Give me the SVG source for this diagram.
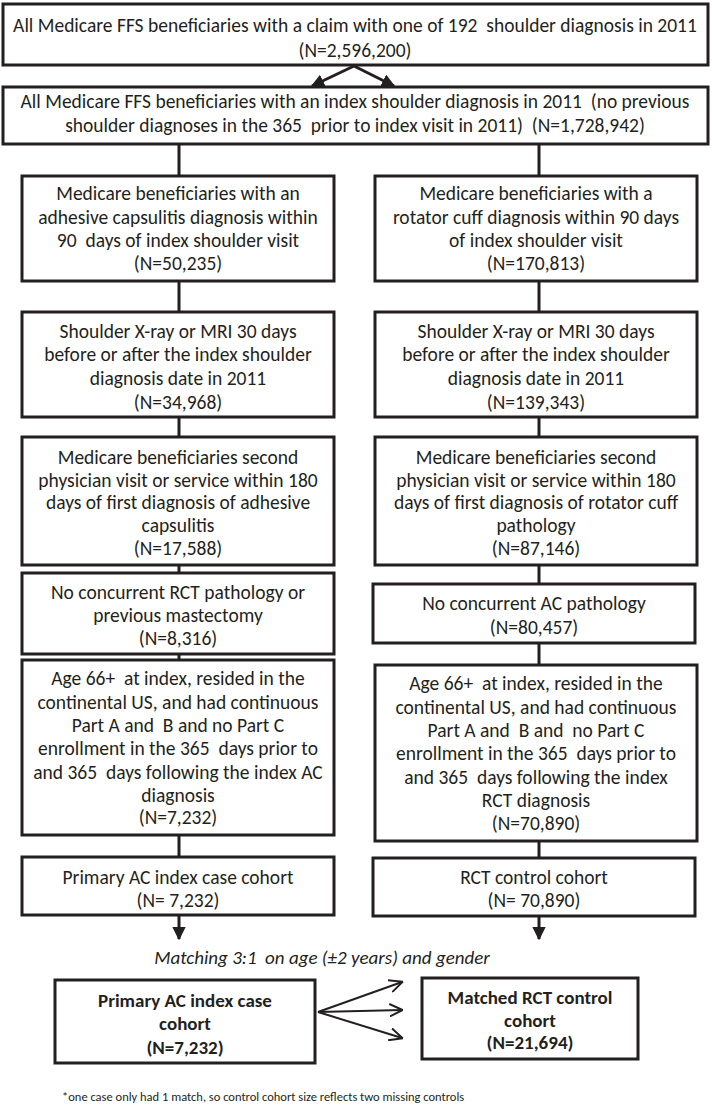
<svg xmlns="http://www.w3.org/2000/svg" width="712" height="1106" viewBox="0 0 712 1106">
<defs>
<style>
.bx{fill:#fff;stroke:#231f20;stroke-width:3}
.ln{stroke:#231f20;stroke-width:3;fill:none}
.thin{stroke:#231f20;stroke-width:2;fill:none}
text{font-family:Carlito,Lato,"Liberation Sans",sans-serif;font-size:19.5px;fill:#231f20;text-anchor:middle;white-space:pre}
.b{font-weight:bold;font-size:19px}
.i{font-style:italic;font-size:19px}
.fn{font-size:12.5px;text-anchor:start}
</style>
<marker id="ah" viewBox="0 0 10 10" refX="9" refY="5" markerWidth="4.5" markerHeight="4.5" orient="auto" markerUnits="strokeWidth">
<path d="M0,0 L10,5 L0,10 z" fill="#231f20"/>
</marker>
<marker id="av" viewBox="0 0 10 10" refX="9" refY="5" markerWidth="7" markerHeight="7" orient="auto" markerUnits="strokeWidth">
<path d="M0,0.5 L9.5,5 L0,9.5" fill="none" stroke="#231f20" stroke-width="1.4"/>
</marker>
</defs>
<rect width="712" height="1106" fill="#fff"/>
<g id="connectors">
<line class="ln" x1="354" y1="66" x2="312" y2="86" marker-end="url(#ah)"/>
<line class="ln" x1="354" y1="66" x2="394" y2="86" marker-end="url(#ah)"/>
<line class="ln" x1="179" y1="144" x2="179" y2="176"/>
<line class="ln" x1="539" y1="144" x2="539" y2="176"/>
<line class="ln" x1="179" y1="281" x2="179" y2="312"/>
<line class="ln" x1="539" y1="281" x2="539" y2="312"/>
<line class="ln" x1="179" y1="417" x2="179" y2="437"/>
<line class="ln" x1="539" y1="417" x2="539" y2="437"/>
<line class="ln" x1="179" y1="565" x2="179" y2="573"/>
<line class="ln" x1="539" y1="565" x2="539" y2="584"/>
<line class="ln" x1="179" y1="654" x2="179" y2="660"/>
<line class="ln" x1="539" y1="643" x2="539" y2="665"/>
<line class="ln" x1="179" y1="835" x2="179" y2="857"/>
<line class="ln" x1="539" y1="841" x2="539" y2="858"/>
<line class="ln" x1="179" y1="915" x2="179" y2="939" marker-end="url(#ah)"/>
<line class="ln" x1="539" y1="916" x2="539" y2="939" marker-end="url(#ah)"/>
<line class="thin" x1="318" y1="1012" x2="402" y2="982" marker-end="url(#av)"/>
<line class="thin" x1="318" y1="1012" x2="402" y2="1010" marker-end="url(#av)"/>
<line class="thin" x1="318" y1="1012" x2="402" y2="1038" marker-end="url(#av)"/>
</g>
<g id="n0">
<rect class="bx" x="3" y="4" width="705" height="61"/>
<text x="355" y="32">All Medicare FFS beneficiaries with a claim with one of 192  shoulder diagnosis in 2011</text>
<text x="355" y="57">(N=2,596,200)</text>
</g>
<g id="n1">
<rect class="bx" x="3" y="87" width="705" height="57"/>
<text x="355" y="108">All Medicare FFS beneficiaries with an index shoulder diagnosis in 2011  (no previous</text>
<text x="355" y="132">shoulder diagnoses in the 365  prior to index visit in 2011)  (N=1,728,942)</text>
</g>
<g id="l1">
<rect class="bx" x="22" y="176" width="312" height="105"/>
<text x="178" y="200">Medicare beneficiaries with an</text>
<text x="178" y="224">adhesive capsulitis diagnosis within</text>
<text x="178" y="247">90  days of index shoulder visit</text>
<text x="178" y="270">(N=50,235)</text>
</g>
<g id="r1">
<rect class="bx" x="375" y="176" width="322" height="105"/>
<text x="536" y="200">Medicare beneficiaries with a</text>
<text x="536" y="224">rotator cuff diagnosis within 90 days</text>
<text x="536" y="247">of index shoulder visit</text>
<text x="536" y="270">(N=170,813)</text>
</g>
<g id="l2">
<rect class="bx" x="22" y="312" width="312" height="105"/>
<text x="178" y="338">Shoulder X-ray or MRI 30 days</text>
<text x="178" y="361">before or after the index shoulder</text>
<text x="178" y="385">diagnosis date in 2011</text>
<text x="178" y="409">(N=34,968)</text>
</g>
<g id="r2">
<rect class="bx" x="375" y="312" width="322" height="105"/>
<text x="536" y="338">Shoulder X-ray or MRI 30 days</text>
<text x="536" y="361">before or after the index shoulder</text>
<text x="536" y="385">diagnosis date in 2011</text>
<text x="536" y="409">(N=139,343)</text>
</g>
<g id="l3">
<rect class="bx" x="22" y="437" width="312" height="128"/>
<text x="178" y="464">Medicare beneficiaries second</text>
<text x="178" y="487">physician visit or service within 180</text>
<text x="178" y="509">days of first diagnosis of adhesive</text>
<text x="178" y="532">capsulitis</text>
<text x="178" y="555">(N=17,588)</text>
</g>
<g id="r3">
<rect class="bx" x="375" y="437" width="322" height="128"/>
<text x="536" y="464">Medicare beneficiaries second</text>
<text x="536" y="487">physician visit or service within 180</text>
<text x="536" y="509">days of first diagnosis of rotator cuff</text>
<text x="536" y="532">pathology</text>
<text x="536" y="555">(N=87,146)</text>
</g>
<g id="l4">
<rect class="bx" x="22" y="573" width="312" height="81"/>
<text x="178" y="599">No concurrent RCT pathology or</text>
<text x="178" y="622">previous mastectomy</text>
<text x="178" y="645">(N=8,316)</text>
</g>
<g id="r4">
<rect class="bx" x="373" y="584" width="322" height="59"/>
<text x="534" y="610">No concurrent AC pathology</text>
<text x="534" y="634">(N=80,457)</text>
</g>
<g id="l5">
<rect class="bx" x="22" y="660" width="312" height="175"/>
<text x="178" y="685">Age 66+  at index, resided in the</text>
<text x="178" y="709">continental US, and had continuous</text>
<text x="178" y="732">Part A and  B and no Part C</text>
<text x="178" y="755">enrollment in the 365  days prior to</text>
<text x="178" y="779">and 365  days following the index AC</text>
<text x="178" y="802">diagnosis</text>
<text x="178" y="824">(N=7,232)</text>
</g>
<g id="r5">
<rect class="bx" x="375" y="665" width="322" height="176"/>
<text x="536" y="690">Age 66+  at index, resided in the</text>
<text x="536" y="714">continental US, and had continuous</text>
<text x="536" y="737">Part A and  B and  no Part C</text>
<text x="536" y="760">enrollment in the 365  days prior to</text>
<text x="536" y="784">and 365  days following the index</text>
<text x="536" y="807">RCT diagnosis</text>
<text x="536" y="830">(N=70,890)</text>
</g>
<g id="l6">
<rect class="bx" x="22" y="857" width="312" height="58"/>
<text x="178" y="884">Primary AC index case cohort</text>
<text x="178" y="907">(N= 7,232)</text>
</g>
<g id="r6">
<rect class="bx" x="373" y="858" width="322" height="58"/>
<text x="534" y="884">RCT control cohort</text>
<text x="534" y="907">(N= 70,890)</text>
</g>
<text class="i" x="322" y="964">Matching 3:1  on age (±2 years) and gender</text>
<g id="b1">
<rect class="bx" x="55" y="980" width="260" height="83"/>
<text class="b" x="185" y="1007">Primary AC index case</text>
<text class="b" x="185" y="1030">cohort</text>
<text class="b" x="185" y="1054">(N=7,232)</text>
</g>
<g id="b2">
<rect class="bx" x="422" y="978" width="216" height="81"/>
<text class="b" x="530" y="1004">Matched RCT control</text>
<text class="b" x="530" y="1027">cohort</text>
<text class="b" x="530" y="1049">(N=21,694)</text>
</g>
<text class="fn" x="62" y="1101">*one case only had 1 match, so control cohort size reflects two missing controls</text>
</svg>
